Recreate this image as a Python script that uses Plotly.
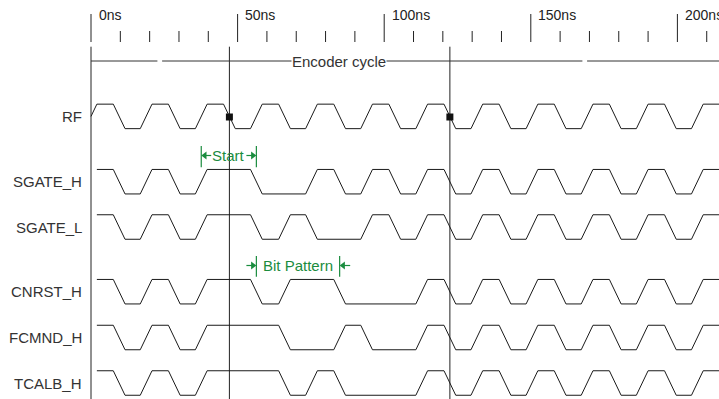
import plotly.graph_objects as go

# ---------------- data (times in ns) ----------------
signals = ["RF", "SGATE_H", "SGATE_L", "CNRST_H", "FCMND_H", "TCALB_H"]

tail = [131.6, 141.2, 150.4, 160.0, 169.2, 178.8, 188.0, 197.6, 206.8]
rf_toggles = [0.0, 9.6, 18.8, 28.4, 37.6, 47.2, 56.4, 66.0, 75.2, 84.8, 94.0,
              103.6, 112.8, 122.4] + tail
sgate_h_toggles = [0.0, 9.6, 18.8, 28.4, 37.6, 56.4, 75.2, 84.8, 94.0, 103.6,
                   112.8, 122.4] + tail
sgate_l_toggles = [0.0, 9.6, 18.8, 28.4, 37.6, 56.4, 66.0, 75.2, 94.0, 103.6,
                   112.8, 122.4] + tail
cnrst_h_toggles = [0.0, 9.6, 18.8, 28.4, 37.6, 56.4, 66.0, 84.8, 112.8, 122.4] + tail
fcmnd_h_toggles = [0.0, 9.6, 18.8, 28.4, 37.6, 66.0, 84.8, 94.0, 112.8, 122.4] + tail
tcalb_h_toggles = [0.0, 9.6, 18.8, 28.4, 37.6, 66.0, 75.2, 84.8, 112.8, 122.4] + tail

toggles = {
    "RF": rf_toggles, "SGATE_H": sgate_h_toggles, "SGATE_L": sgate_l_toggles,
    "CNRST_H": cnrst_h_toggles, "FCMND_H": fcmnd_h_toggles, "TCALB_H": tcalb_h_toggles,
}
draw_start = {"RF": 0.0, "SGATE_H": 2.0, "SGATE_L": 2.0, "CNRST_H": 2.0,
              "FCMND_H": 2.0, "TCALB_H": 2.0}

major_ticks = [0, 50, 100, 150, 200]
major_labels = ["0ns", "50ns", "100ns", "150ns", "200ns"]
minor_ticks = [10, 20, 30, 40, 60, 70, 80, 90, 110, 120, 130, 140,
               160, 170, 180, 190, 210]
cursor_times = [47.2, 122.4]
encoder_breaks = [23.45, 168.4]
start_span = [37.6, 56.4]
bit_pattern_span = [56.4, 84.8]

# ---------------- layout / style constants ----------------
T_END = 215.0
HALF_EDGE = 2.0
row_center = {"RF": 116.4, "SGATE_H": 181.7, "SGATE_L": 227.0,
              "CNRST_H": 291.7, "FCMND_H": 337.5, "TCALB_H": 383.0}
HALF_AMP = 12.25
WAVE_COLOR = "#1a1a1a"
GREEN = "#1a8c3e"
FONT = "Liberation Sans, Arial, sans-serif"
X_MIN, X_MAX = -31.04, 214.19


def waveform(tog, start, end, yc):
    hi, lo = yc - HALF_AMP, yc + HALF_AMP
    level = lo
    pts = [(start - 10.0, level)]
    for t in tog:
        new = hi if level == lo else lo
        pts.append((t - HALF_EDGE, level))
        pts.append((t + HALF_EDGE, new))
        level = new
    pts.append((end, level))
    out = []
    for i in range(len(pts) - 1):
        (x0, y0), (x1, y1) = pts[i], pts[i + 1]
        if x1 < start:
            continue
        if x0 < start <= x1:
            f = (start - x0) / (x1 - x0) if x1 != x0 else 0
            out.append((start, y0 + f * (y1 - y0)))
        if x0 >= start:
            out.append((x0, y0))
    out.append(pts[-1])
    return [p[0] for p in out], [p[1] for p in out]


fig = go.Figure()


def add_line(xs, ys, color=WAVE_COLOR, width=1.0):
    fig.add_trace(go.Scatter(x=xs, y=ys, mode="lines",
                             line=dict(color=color, width=width),
                             hoverinfo="skip", showlegend=False))


# time ruler ticks
xs, ys = [], []
for t in major_ticks:
    xs += [t, t, None]
    ys += [14, 42, None]
for t in minor_ticks:
    xs += [t, t, None]
    ys += [31, 42, None]
add_line(xs, ys, color="#222222", width=1)

# left border and cursors
xs, ys = [0, 0, None], [46.7, 399, None]
for t in cursor_times:
    xs += [t, t, None]
    ys += [46.7, 399, None]
add_line(xs, ys, color="#222222", width=1)

# encoder cycle line with breaks
ENC_Y = 61
gap = 0.8
seg_x = [0]
for b in encoder_breaks:
    seg_x += [b - gap, None, b + gap]
seg_x += [T_END]
add_line(seg_x, [ENC_Y if v is not None else None for v in seg_x], color="#333333", width=1)

# waveforms
for s in signals:
    x, y = waveform(toggles[s], draw_start[s], T_END, row_center[s])
    add_line(x, y)

# cursor markers on RF
fig.add_trace(go.Scatter(x=cursor_times, y=[row_center["RF"] + 0.6] * len(cursor_times),
                         mode="markers",
                         marker=dict(symbol="square", size=7, color="#111111"),
                         hoverinfo="skip", showlegend=False))

# Start annotation (bars + outward arrows)
sy = 155.5
xs, ys = [], []
for t in start_span:
    xs += [t, t, None]
    ys += [146, 167.3, None]
xs += [41.0, start_span[0] + 0.5, None, 53.0, start_span[1] - 0.5, None]
ys += [sy, sy, None, sy, sy, None]
# Bit pattern annotation (bars + inward arrows)
by = 265.5
for t in bit_pattern_span:
    xs += [t, t, None]
    ys += [256, 276.7, None]
xs += [53.0, bit_pattern_span[0] - 0.5, None, 88.4, bit_pattern_span[1] + 0.5, None]
ys += [by, by, None, by, by, None]
add_line(xs, ys, color=GREEN, width=1.2)

fig.add_trace(go.Scatter(
    x=[start_span[0] + 1.2, start_span[1] - 1.2, bit_pattern_span[0] - 1.2, bit_pattern_span[1] + 1.2],
    y=[sy, sy, by, by], mode="markers",
    marker=dict(symbol=["triangle-left", "triangle-right", "triangle-right", "triangle-left"],
                size=7, color=GREEN, line=dict(width=0)),
    hoverinfo="skip", showlegend=False))

annotations = []
for t, lab in zip(major_ticks, major_labels):
    annotations.append(dict(x=t + 1.9, y=15, text=lab, showarrow=False,
                            xanchor="left", yanchor="middle",
                            font=dict(family=FONT, size=14, color="#222222")))
for s in signals:
    annotations.append(dict(x=-2.3, y=row_center[s], text=s, showarrow=False,
                            xanchor="right", yanchor="middle",
                            font=dict(family=FONT, size=15, color="#333333")))
annotations.append(dict(x=84.6, y=ENC_Y, text="Encoder cycle", showarrow=False,
                        xanchor="center", yanchor="middle", bgcolor="white", borderpad=0,
                        font=dict(family=FONT, size=15, color="#333333")))
annotations.append(dict(x=sum(start_span) / 2, y=sy, text="Start", showarrow=False,
                        xanchor="center", yanchor="middle",
                        font=dict(family=FONT, size=15, color=GREEN)))
annotations.append(dict(x=sum(bit_pattern_span) / 2, y=by, text="Bit Pattern", showarrow=False,
                        xanchor="center", yanchor="middle",
                        font=dict(family=FONT, size=15, color=GREEN)))

fig.update_layout(
    width=719, height=399, autosize=False,
    margin=dict(l=0, r=0, t=0, b=0, pad=0),
    paper_bgcolor="white", plot_bgcolor="white",
    xaxis=dict(range=[X_MIN, X_MAX], visible=False, fixedrange=True),
    yaxis=dict(range=[399, 0], visible=False, fixedrange=True),
    annotations=annotations,
)

fig.write_html("out.html", config={"displayModeBar": False},
               post_script="document.body.style.margin='0px';document.body.style.overflow='hidden';")
